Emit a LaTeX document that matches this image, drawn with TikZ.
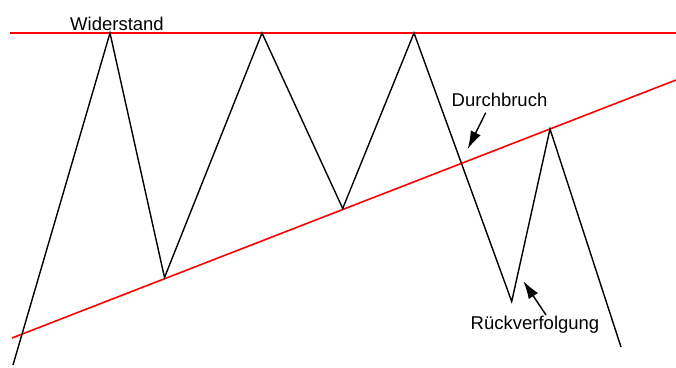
\documentclass[tikz,border=0pt]{standalone}
\usepackage{fontspec}
\setmainfont{Liberation Sans}
\usepackage{tikz}
\usetikzlibrary{arrows.meta}

\tikzset{
    bigtip/.tip={Latex[length=18pt, width=11pt]}
}

\begin{document}
\begin{tikzpicture}[
    x=1pt, y=1pt,
    price/.style={draw=black, line width=1.4pt, line join=miter},
    trendline/.style={draw=red, line width=1.6pt},
    chartlabel/.style={font=\fontsize{18.5}{20}\selectfont, inner sep=0pt, anchor=base},
    pointer/.style={-bigtip, line width=1.4pt}
]
\useasboundingbox (0,0) rectangle (676,-367);

% Lines
\coordinate (r0) at (10,-33);
\coordinate (r1) at (676,-33);
\coordinate (s0) at (12,-338);
\coordinate (s1) at (676,-80);
\draw[trendline] (r0) -- (r1);
\draw[trendline] (s0) -- (s1);

% Price
\coordinate (p0) at (13,-365);
\coordinate (p1) at (110,-33);
\coordinate (p2) at (164.5,-277.5);
\coordinate (p3) at (262,-33);
\coordinate (p4) at (342.7,-208.5);
\coordinate (p5) at (414,-33);
\coordinate (p6) at (511.7,-301.5);
\coordinate (p7) at (550,-129);
\coordinate (p8) at (621,-347);
\draw[price] (p0) -- (p1) -- (p2) -- (p3) -- (p4) -- (p5) -- (p6) -- (p7) -- (p8);

% Labels
\node[chartlabel] (wider) at (117,-30) {Widerstand};
\node[chartlabel] (durch) at (499.5,-106.5) {Durchbruch};
\node[chartlabel] (rueck) at (535,-329.5) {Rückverfolgung};

% Arrows
\coordinate (durchtail) at (485.7,-112.7);
\coordinate (durchtip) at (467.7,-149);
\coordinate (ruecktail) at (546,-315);
\coordinate (ruecktip) at (523.3,-281);
\draw[pointer] (durchtail) -- (durchtip);
\draw[pointer] (ruecktail) -- (ruecktip);

\end{tikzpicture}
\end{document}
